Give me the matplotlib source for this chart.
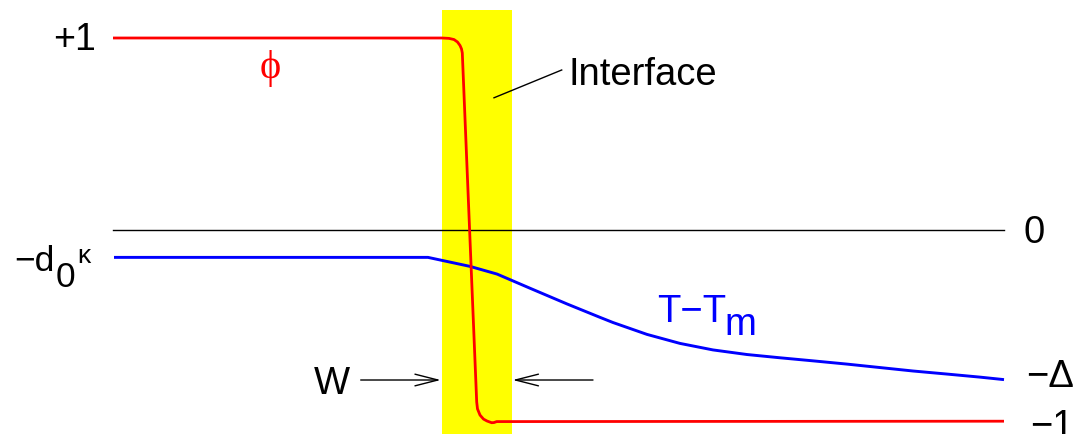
import matplotlib
matplotlib.use("Agg")
import matplotlib.pyplot as plt
from matplotlib.patches import FancyArrowPatch

plt.rcParams['font.family'] = ['Liberation Sans', 'DejaVu Sans']

# ---- data (x in drawing units, y in field units) ----
x_left, x_right = 113, 1004
interface_x = [442.3, 511.7]
interface_top = 1.144

phi_x = [113, 442, 449, 454, 457.5, 460, 461.5, 462.3, 476.7, 477.5, 480, 483.5, 487,
         491.7, 494, 496.7, 1004]
phi_y = [1.0, 1.0, 0.998, 0.992, 0.979, 0.961, 0.943, 0.922, -0.900, -0.936, -0.968,
         -0.989, -0.999, -1.008, -1.007, -1.002, -1.0]

T_x = [114, 428, 470, 497, 530, 567, 600, 613, 647, 680, 713, 747, 780, 813, 847,
       880, 913, 947, 980, 1004]
T_y = [-0.145, -0.145, -0.192, -0.232, -0.306, -0.388, -0.458, -0.485, -0.547, -0.594,
       -0.628, -0.652, -0.669, -0.685, -0.702, -0.720, -0.738, -0.754, -0.770, -0.783]

zero_level = 0.0
W_arrows = [(360.7, 440.7), (593, 512.7)]
arrow_level = -0.785
leader_x = [494, 561.7]
leader_y = [0.688, 0.833]

# layout helper: pixel row -> field units
def py(v):
    return (230.6 - v) / 191.6

y_bottom = py(435)
y_top = py(0)

fig = plt.figure(figsize=(10.73, 4.35), dpi=100)
ax = fig.add_axes([0, 0, 1, 1])
ax.set_xlim(0, 1073)
ax.set_ylim(y_bottom, y_top)
ax.axis('off')

# interface band
ax.fill_betweenx([y_bottom, interface_top], interface_x[0], interface_x[1],
                 color='#ffff00', lw=0, zorder=1)

# zero line
ax.plot([x_left, x_right], [zero_level, zero_level], color='black', lw=1.0, zorder=2)

# curves
ax.plot(T_x, T_y, color='#0000ff', lw=2.1, zorder=3, solid_joinstyle='round',
        solid_capstyle='butt')
ax.plot(phi_x, phi_y, color='#ff0000', lw=2.0, zorder=4, solid_joinstyle='round',
        solid_capstyle='butt')

# leader line
ax.plot(leader_x, leader_y, color='black', lw=1.0, zorder=3)

# W arrows
for xs, xe in W_arrows:
    arr = FancyArrowPatch((xs, arrow_level), (xe, arrow_level),
                          arrowstyle='->,head_length=16.5,head_width=4.2',
                          mutation_scale=1, shrinkA=0, shrinkB=0,
                          color='black', lw=1.0, zorder=5)
    ax.add_patch(arr)

fs = 27.5
ax.text(53, py(50.5), '+1', fontsize=27, ha='left', va='baseline')
ax.text(1023.5, py(242.7), '0', fontsize=fs, ha='left', va='baseline')
ax.text(1026, py(387), '\u2212\u0394', fontsize=fs, ha='left', va='baseline')
ax.text(1030, py(437.5), '\u22121', fontsize=fs, ha='left', va='baseline')

# -d0 kappa
ax.text(14, py(271), '\u2212d', fontsize=25.5, ha='left', va='baseline')
ax.text(55.5, py(287), '0', fontsize=25.5, ha='left', va='baseline')
ax.text(77, py(263.5), '\u03ba', fontsize=19, ha='left', va='baseline')

ax.text(270.5, py(69), '\u03d5', fontsize=29, color='#ff0000', ha='center',
        va='center', family=['Liberation Serif', 'DejaVu Serif'])
ax.text(569, py(85), 'Interface', fontsize=fs, ha='left', va='baseline')
ax.text(657, py(321.7), 'T\u2212T', fontsize=fs, color='#0000ff', ha='left',
        va='baseline')
ax.text(724, py(335.5), 'm', fontsize=fs, color='#0000ff', ha='left', va='baseline')
ax.text(313.5, py(394), 'W', fontsize=fs, ha='left', va='baseline')

fig.savefig('out.png', dpi=100)
